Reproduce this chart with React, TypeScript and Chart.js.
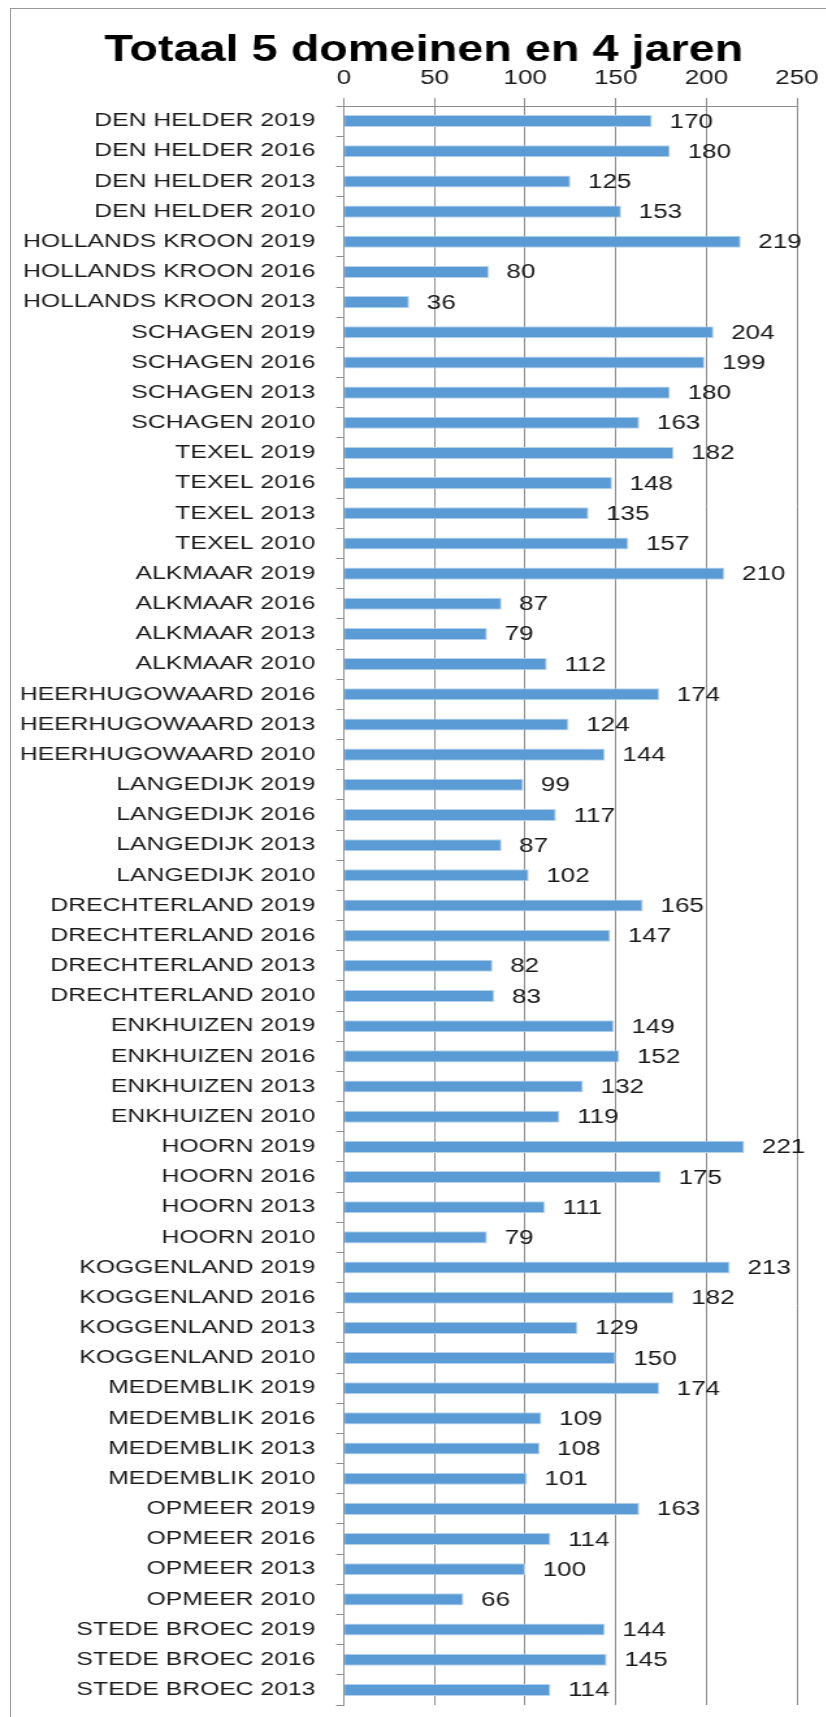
import React, { useEffect, useRef } from 'react';
import { Chart, registerables } from 'chart.js';

Chart.register(...registerables);

const categories: string[] = [
  'DEN HELDER 2019', 'DEN HELDER 2016', 'DEN HELDER 2013', 'DEN HELDER 2010',
  'HOLLANDS KROON 2019', 'HOLLANDS KROON 2016', 'HOLLANDS KROON 2013',
  'SCHAGEN 2019', 'SCHAGEN 2016', 'SCHAGEN 2013', 'SCHAGEN 2010',
  'TEXEL 2019', 'TEXEL 2016', 'TEXEL 2013', 'TEXEL 2010',
  'ALKMAAR 2019', 'ALKMAAR 2016', 'ALKMAAR 2013', 'ALKMAAR 2010',
  'HEERHUGOWAARD 2016', 'HEERHUGOWAARD 2013', 'HEERHUGOWAARD 2010',
  'LANGEDIJK 2019', 'LANGEDIJK 2016', 'LANGEDIJK 2013', 'LANGEDIJK 2010',
  'DRECHTERLAND 2019', 'DRECHTERLAND 2016', 'DRECHTERLAND 2013', 'DRECHTERLAND 2010',
  'ENKHUIZEN 2019', 'ENKHUIZEN 2016', 'ENKHUIZEN 2013', 'ENKHUIZEN 2010',
  'HOORN 2019', 'HOORN 2016', 'HOORN 2013', 'HOORN 2010',
  'KOGGENLAND 2019', 'KOGGENLAND 2016', 'KOGGENLAND 2013', 'KOGGENLAND 2010',
  'MEDEMBLIK 2019', 'MEDEMBLIK 2016', 'MEDEMBLIK 2013', 'MEDEMBLIK 2010',
  'OPMEER 2019', 'OPMEER 2016', 'OPMEER 2013', 'OPMEER 2010',
  'STEDE BROEC 2019', 'STEDE BROEC 2016', 'STEDE BROEC 2013',
];

const values: number[] = [
  170, 180, 125, 153,
  219, 80, 36,
  204, 199, 180, 163,
  182, 148, 135, 157,
  210, 87, 79, 112,
  174, 124, 144,
  99, 117, 87, 102,
  165, 147, 82, 83,
  149, 152, 132, 119,
  221, 175, 111, 79,
  213, 182, 129, 150,
  174, 109, 108, 101,
  163, 114, 100, 66,
  144, 145, 114,
];

const xTicks: number[] = [0, 50, 100, 150, 200, 250];

const chartTitle = 'Totaal 5 domeinen en 4 jaren';

const STRETCH = 1.3;
const CANVAS_W = 636;
const CANVAS_H = 1717;
const FONT = '"Liberation Sans", Arial, sans-serif';
const GRID = '#8c8c8c';
const TEXT = '#1a1a1a';

const valueLabelPlugin = {
  id: 'valueLabels',
  afterDatasetsDraw(chart: any) {
    const ctx = chart.ctx;
    const meta = chart.getDatasetMeta(0);
    const data = chart.data.datasets[0].data;
    ctx.save();
    ctx.font = `20px ${FONT}`;
    ctx.fillStyle = TEXT;
    ctx.textAlign = 'left';
    ctx.textBaseline = 'middle';
    meta.data.forEach((el: any, i: number) => {
      ctx.fillText(String(data[i]), el.x + 13.5, el.y + 1);
    });
    ctx.restore();
  },
};

// shift the title block so it is centred like in the reference
const titleShiftPlugin = {
  id: 'titleShift',
  afterLayout(chart: any) {
    const t = chart.titleBlock;
    if (t) {
      t.left = 39;
    }
  },
};

export default function App() {
  const canvasRef = useRef<HTMLCanvasElement | null>(null);

  useEffect(() => {
    if (!canvasRef.current) return;
    const chart = new Chart(canvasRef.current, {
      type: 'bar',
      data: {
        labels: categories,
        datasets: [
          {
            data: values,
            backgroundColor: '#5B9BD5',
            borderColor: '#B7D2EC',
            borderWidth: 1,
            barPercentage: 0.4,
            categoryPercentage: 1,
          },
        ],
      },
      options: {
        indexAxis: 'y',
        responsive: false,
        animation: false,
        devicePixelRatio: 1,
        layout: { padding: { left: 0, right: 23, top: 0, bottom: 12 } },
        plugins: {
          legend: { display: false },
          tooltip: { enabled: false },
          title: {
            display: true,
            text: chartTitle,
            color: '#000000',
            font: { family: FONT, size: 36, weight: 'bold', lineHeight: 0.8 },
            padding: { top: 37, bottom: 0 },
          },
        },
        scales: {
          x: {
            position: 'top',
            min: 0,
            max: 250,
            afterBuildTicks: (scale: any) => {
              scale.ticks = xTicks.map((v) => ({ value: v }));
            },
            afterFit: (scale: any) => {
              scale.height = 40.2;
              scale.paddingLeft = 0;
              scale.paddingRight = 0;
            },
            ticks: {
              padding: 8,
              color: TEXT,
              font: { family: FONT, size: 20 },
              maxRotation: 0,
              autoSkip: false,
            },
            grid: { color: GRID, lineWidth: 1, tickLength: 8, drawTicks: true },
            border: { display: true, color: GRID, width: 1 },
          },
          y: {
            afterFit: (scale: any) => {
              scale.width = 264.6;
              scale.paddingTop = 0;
              scale.paddingBottom = 0;
            },
            ticks: {
              padding: 16,
              color: TEXT,
              font: { family: FONT, size: 19 },
              autoSkip: false,
            },
            grid: {
              drawOnChartArea: false,
              drawTicks: true,
              tickLength: 6,
              color: GRID,
              offset: true,
            },
            border: { display: true, color: GRID, width: 1 },
          },
        },
      } as any,
      plugins: [valueLabelPlugin, titleShiftPlugin],
    });
    return () => chart.destroy();
  }, []);

  return (
    <div
      style={{
        position: 'absolute',
        left: 0,
        top: 0,
        width: 826,
        height: 1717,
        overflow: 'hidden',
        background: '#ffffff',
      }}
    >
      <div
        style={{
          position: 'absolute',
          left: 10,
          top: 8,
          width: 830,
          height: 1730,
          borderLeft: '1px solid #999999',
          borderTop: '1px solid #999999',
          boxSizing: 'border-box',
        }}
      />
      <canvas
        ref={canvasRef}
        width={CANVAS_W}
        height={CANVAS_H}
        style={{
          position: 'absolute',
          left: 0,
          top: 0,
          width: CANVAS_W,
          height: CANVAS_H,
          transform: `scaleX(${STRETCH})`,
          transformOrigin: '0 0',
        }}
      />
    </div>
  );
}
